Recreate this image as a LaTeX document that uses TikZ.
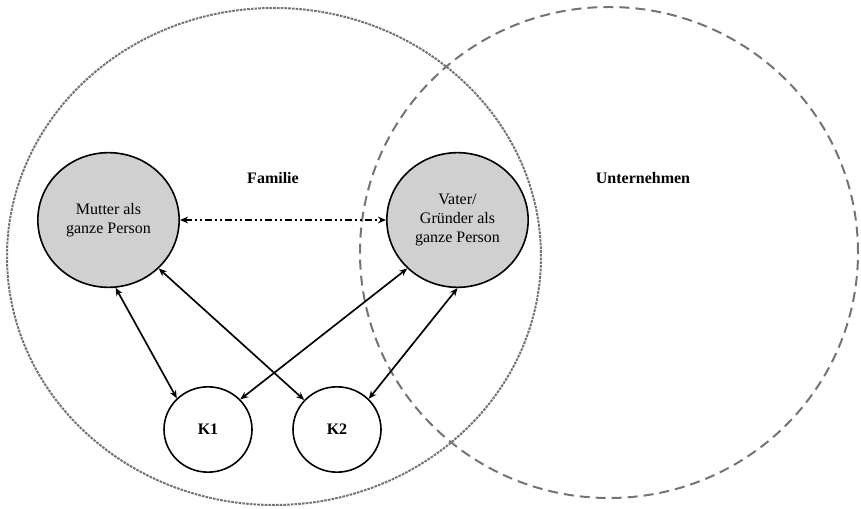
\documentclass[tikz,border=0pt]{standalone}
\usepackage{fontspec}
\setmainfont{Liberation Serif}
\usepackage[HTML]{xcolor}
\usetikzlibrary{positioning, arrows, arrows.meta, shapes.geometric}

\definecolor{ringgray}{HTML}{747474}
\definecolor{persongray}{HTML}{D0D0D0}

\begin{document}
\begin{tikzpicture}[x=0.75pt, y=-0.75pt, >={Stealth[length=6pt, width=5pt]},
  font=\fontsize{12}{14.25}\selectfont,
  bereich/.style={ellipse, draw=ringgray, line width=1.5pt, inner sep=0pt},
  person/.style={ellipse, draw, line width=1.2pt, fill=persongray, minimum width=106pt, minimum height=101pt, align=center, inner sep=0pt},
  kind/.style={ellipse, draw, line width=1.2pt, fill=white, minimum width=66pt, minimum height=64pt, font=\fontsize{12}{14.25}\selectfont\bfseries},
  titel/.style={font=\fontsize{12}{14.25}\selectfont\bfseries},
  bezug/.style={<->, line width=1.25pt}]

\useasboundingbox (0,0) rectangle (861,509);

\node[bereich, dash pattern=on 2pt off 0.8pt, minimum width=400.5pt, minimum height=372.75pt] (Fam) at (274,256.5) {};
\node[bereich, dash pattern=on 7.5pt off 4.5pt, minimum width=373.5pt, minimum height=368.25pt] (Unt) at (609,252.5) {};

\node[titel] (famtitel) at (273,178) {Familie};
\node[titel] (unttitel) at (643,178) {Unternehmen};

\node[person] (M) at (108.5,220) {Mutter als\\ganze Person};
\node[person] (V) at (457.5,220) {Vater/\\Gründer als\\ganze Person};
\node[kind] (K1) at (208,429.5) {K1};
\node[kind] (K2) at (337,429.5) {K2};

\draw[<->, line width=1.6pt, dash pattern=on 5pt off 2.5pt on 1.5pt off 2.5pt on 1.5pt off 2pt] (M.east) -- (V.west);
\draw[bezug] (M.-84) -- (K1.135);
\draw[bezug] (M.-44) -- (K2.138);
\draw[bezug] (V.-136) -- (K1.43);
\draw[bezug] (V.-90) -- (K2.44);
\end{tikzpicture}
\end{document}
